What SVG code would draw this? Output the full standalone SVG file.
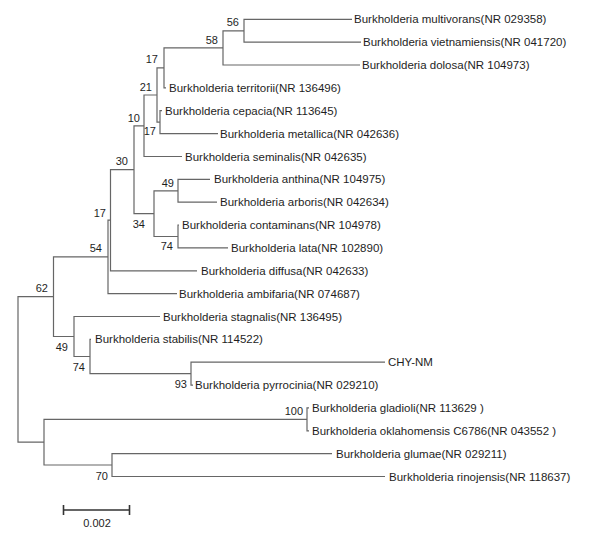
<svg xmlns="http://www.w3.org/2000/svg" width="595" height="537" viewBox="0 0 595 537">
<style>
.br{fill:none;stroke:#666;stroke-width:1.2}
.lf{font-family:"Liberation Sans",Arial,sans-serif;font-size:11.5px;fill:#1e1e1e}
.bs{font-family:"Liberation Sans",Arial,sans-serif;font-size:11px;fill:#1e1e1e;text-anchor:end}
.sc{fill:none;stroke:#333;stroke-width:1.6}
</style>
<rect width="595" height="537" fill="#fff"/>
<g id="connectors">
<path class="br" d="M352 19.3 H244 V42.2 H361"/>
<path class="br" d="M244 30.8 H223 V65 H360"/>
<path class="br" d="M223 47.9 H164 V87.9 H166"/>
<path class="br" d="M162 110.7 H160 V133.6 H218"/>
<path class="br" d="M164 67.9 H157 V122.1 H160"/>
<path class="br" d="M157 95 H144 V156.5 H182"/>
<path class="br" d="M210 179.3 H178 V202.2 H217"/>
<path class="br" d="M179 225 H178 V247.9 H228"/>
<path class="br" d="M178 190.8 H154 V236.5 H178"/>
<path class="br" d="M144 125.8 H134 V213.6 H154"/>
<path class="br" d="M134 169.7 H110.5 V270.8 H197"/>
<path class="br" d="M110.5 220.2 H108 V293.6 H177"/>
<path class="br" d="M385 362.2 H191 V385.1 H193"/>
<path class="br" d="M91 339.3 H90 V373.6 H191"/>
<path class="br" d="M160 316.5 H74 V356.5 H90"/>
<path class="br" d="M108 256.9 H53.5 V336.5 H74"/>
<path class="br" d="M309 407.9 H307 V430.8 H309"/>
<path class="br" d="M332 453.6 H112 V476.5 H385"/>
<path class="br" d="M307 419.3 H44 V465 H112"/>
<path class="br" d="M53.5 296.7 H18 V442.2 H44"/>
</g>
<g id="leaves">
<g id="multivorans"><text class="lf" x="354" y="23.3">Burkholderia multivorans(NR 029358)</text></g>
<g id="vietnamiensis"><text class="lf" x="363" y="46.2">Burkholderia vietnamiensis(NR 041720)</text></g>
<g id="dolosa"><text class="lf" x="362" y="69">Burkholderia dolosa(NR 104973)</text></g>
<g id="territorii"><text class="lf" x="169" y="91.9">Burkholderia territorii(NR 136496)</text></g>
<g id="cepacia"><text class="lf" x="165" y="114.7">Burkholderia cepacia(NR 113645)</text></g>
<g id="metallica"><text class="lf" x="220" y="137.6">Burkholderia metallica(NR 042636)</text></g>
<g id="seminalis"><text class="lf" x="185" y="160.5">Burkholderia seminalis(NR 042635)</text></g>
<g id="anthina"><text class="lf" x="214" y="183.3">Burkholderia anthina(NR 104975)</text></g>
<g id="arboris"><text class="lf" x="220" y="206.2">Burkholderia arboris(NR 042634)</text></g>
<g id="contaminans"><text class="lf" x="182" y="229">Burkholderia contaminans(NR 104978)</text></g>
<g id="lata"><text class="lf" x="231" y="251.9">Burkholderia lata(NR 102890)</text></g>
<g id="diffusa"><text class="lf" x="201" y="274.8">Burkholderia diffusa(NR 042633)</text></g>
<g id="ambifaria"><text class="lf" x="179" y="297.6">Burkholderia ambifaria(NR 074687)</text></g>
<g id="stagnalis"><text class="lf" x="163" y="320.5">Burkholderia stagnalis(NR 136495)</text></g>
<g id="stabilis"><text class="lf" x="95" y="343.3">Burkholderia stabilis(NR 114522)</text></g>
<g id="chy-nm"><text class="lf" x="388" y="366.2">CHY-NM</text></g>
<g id="pyrrocinia"><text class="lf" x="195" y="389.1">Burkholderia pyrrocinia(NR 029210)</text></g>
<g id="gladioli"><text class="lf" x="312" y="411.9">Burkholderia gladioli(NR 113629 )</text></g>
<g id="oklahomensis"><text class="lf" x="312" y="434.8">Burkholderia oklahomensis C6786(NR 043552 )</text></g>
<g id="glumae"><text class="lf" x="336" y="457.6">Burkholderia glumae(NR 029211)</text></g>
<g id="rinojensis"><text class="lf" x="389" y="480.5">Burkholderia rinojensis(NR 118637)</text></g>
</g>
<g id="bootstrap">
<g id="b56"><text class="bs" x="239" y="26">56</text></g>
<g id="b58"><text class="bs" x="218" y="44">58</text></g>
<g id="b17u"><text class="bs" x="158" y="63">17</text></g>
<g id="b21"><text class="bs" x="152" y="91">21</text></g>
<g id="b17l"><text class="bs" x="156" y="135">17</text></g>
<g id="b10"><text class="bs" x="140" y="122">10</text></g>
<g id="b30"><text class="bs" x="128" y="165">30</text></g>
<g id="b49"><text class="bs" x="174" y="187">49</text></g>
<g id="b34"><text class="bs" x="145" y="228">34</text></g>
<g id="b74"><text class="bs" x="173" y="250">74</text></g>
<g id="b17m"><text class="bs" x="106" y="217">17</text></g>
<g id="b54"><text class="bs" x="102" y="252">54</text></g>
<g id="b62"><text class="bs" x="48" y="292">62</text></g>
<g id="b49b"><text class="bs" x="68" y="351">49</text></g>
<g id="b74b"><text class="bs" x="85" y="371">74</text></g>
<g id="b93"><text class="bs" x="187" y="388">93</text></g>
<g id="b100"><text class="bs" x="303" y="415">100</text></g>
<g id="b70"><text class="bs" x="108" y="480">70</text></g>
</g>
<g id="scale">
<path class="sc" d="M63 510 H130 M63.5 505 V515 M129.5 505 V515"/>
<text x="97" y="527" style="font-family:'Liberation Sans',Arial,sans-serif;font-size:11px;fill:#1e1e1e;text-anchor:middle">0.002</text>
</g>
</svg>
